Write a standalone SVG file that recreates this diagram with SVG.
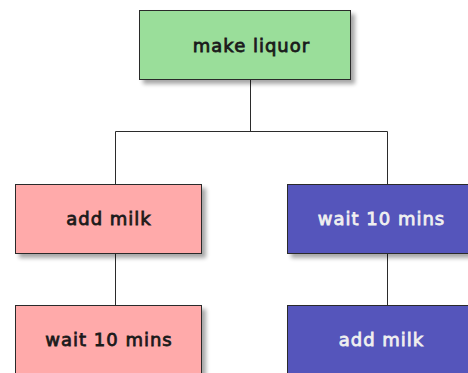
<svg xmlns="http://www.w3.org/2000/svg" width="468" height="373" viewBox="0 0 468 373">
  <style>
    .box { stroke: #2b2b2b; stroke-width: 1; }
    .lbl { font-family: "DejaVu Sans", sans-serif; font-size: 18px; letter-spacing: 1px; text-anchor: middle; stroke-width: 0.8; }
    .dark { fill: #1a1a1a; stroke: #1a1a1a; }
    .light { fill: #f0f0f0; stroke: #f0f0f0; }
    .green { fill: #9ade9a; }
    .pink { fill: #ffaaaa; }
    .purple { fill: #5555bb; }
    .link { stroke: #2b2b2b; stroke-width: 1; fill: none; }
  </style>
  <defs>
    <filter id="shadow" x="-10%" y="-10%" width="130%" height="140%">
      <feGaussianBlur in="SourceAlpha" stdDeviation="2"/>
      <feOffset dx="4" dy="4" result="b"/>
      <feComponentTransfer><feFuncA type="linear" slope="0.35"/></feComponentTransfer>
      <feMerge><feMergeNode/><feMergeNode in="SourceGraphic"/></feMerge>
    </filter>
  </defs>
  <rect width="468" height="373" fill="#ffffff"/>

  <g id="connectors">
    <path class="link" d="M250.5 80 V131.5 M115.5 131.5 H387.5 M115.5 131.5 V184.5 M387.5 131.5 V184.5"/>
    <path class="link" d="M115.5 253.5 V305.5"/>
    <path class="link" d="M387.5 253.5 V305.5"/>
  </g>

  <g id="make-liquor">
    <rect class="box green" x="139.5" y="10.5" width="211" height="69" filter="url(#shadow)"/>
    <text class="lbl dark" x="251.5" y="52">make liquor</text>
  </g>

  <g id="add-milk-left">
    <rect class="box pink" x="15.5" y="184.5" width="186" height="69" filter="url(#shadow)"/>
    <text class="lbl dark" x="109" y="224.5">add milk</text>
  </g>

  <g id="wait-left">
    <rect class="box pink" x="15.5" y="305.5" width="186" height="69" filter="url(#shadow)"/>
    <text class="lbl dark" x="109" y="345.5">wait 10 mins</text>
  </g>

  <g id="wait-right">
    <rect class="box purple" x="287.5" y="184.5" width="187" height="69" filter="url(#shadow)"/>
    <text class="lbl light" x="381.5" y="224.5">wait 10 mins</text>
  </g>

  <g id="add-milk-right">
    <rect class="box purple" x="287.5" y="305.5" width="187" height="69" filter="url(#shadow)"/>
    <text class="lbl light" x="381.5" y="345.5">add milk</text>
  </g>
</svg>
